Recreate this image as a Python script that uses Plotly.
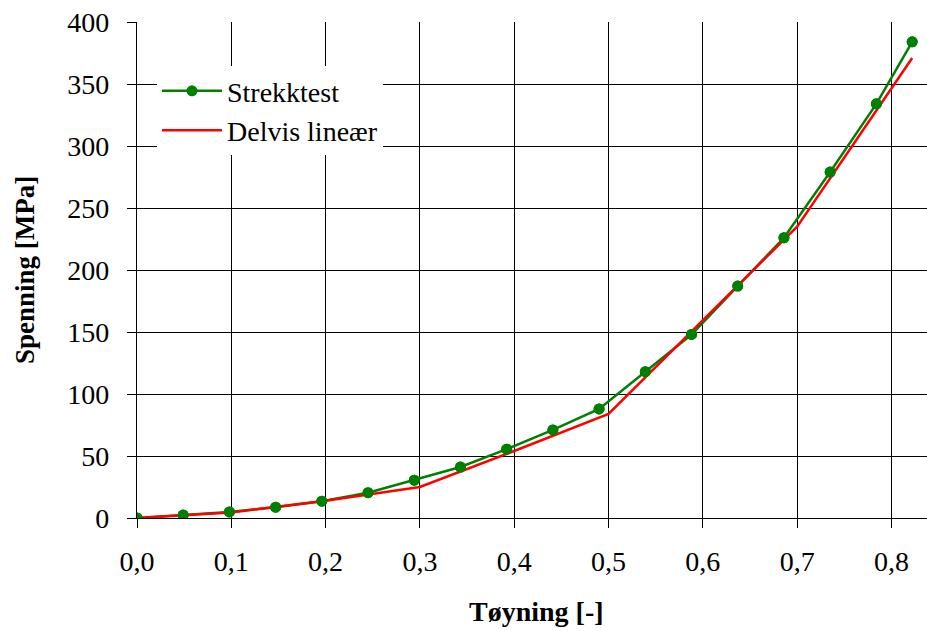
import plotly.graph_objects as go

# Strekktest (tensile test) data
strain_test = [0.0, 0.049, 0.098, 0.147, 0.196, 0.245, 0.294, 0.343, 0.392, 0.441,
               0.490, 0.539, 0.588, 0.637, 0.686, 0.735, 0.784, 0.822]
stress_test = [0.0, 2.4, 4.9, 8.7, 13.6, 20.4, 30.5, 41.1, 55.5, 71.0,
               88.0, 118.0, 148.0, 187.0, 226.0, 279.0, 334.0, 384.0]

# Delvis lineær (piecewise linear) data
strain_lin = [0.0, 0.1, 0.2, 0.3, 0.4, 0.5, 0.7, 0.822]
stress_lin = [0.0, 4.5, 14.0, 25.0, 54.0, 84.0, 235.0, 371.0]

x_ticks = [0.0, 0.1, 0.2, 0.3, 0.4, 0.5, 0.6, 0.7, 0.8]
y_ticks = [0, 50, 100, 150, 200, 250, 300, 350, 400]

GREEN = "#008000"
RED = "#FF0000"
FONT = "Liberation Serif, Times New Roman, serif"

fig = go.Figure()
fig.add_trace(go.Scatter(x=strain_test, y=stress_test, mode="lines+markers",
                         name="Strekktest", line=dict(color=GREEN, width=2.5),
                         marker=dict(color=GREEN, size=11), legendrank=1))
fig.add_trace(go.Scatter(x=strain_lin, y=stress_lin, mode="lines",
                         name="Delvis lineær", line=dict(color=RED, width=2.5),
                         legendrank=2))
fig.add_trace(go.Scatter(x=strain_test, y=stress_test, mode="markers",
                         showlegend=False, marker=dict(color=GREEN, size=11),
                         hoverinfo="skip"))

axis_common = dict(showline=True, linecolor="black", linewidth=1.2,
                   showgrid=True, gridcolor="black", gridwidth=1,
                   ticks="outside", ticklen=9, tickcolor="black", tickwidth=1.2,
                   zeroline=False, tickfont=dict(family=FONT, size=28, color="black"))

fig.update_xaxes(range=[0, 0.8377], tickvals=x_ticks, tickformat=".1f",
                 ticklabelstandoff=9, **axis_common)
fig.update_yaxes(range=[0, 400], tickvals=y_ticks, ticklabelstandoff=12,
                 **axis_common)

fig.update_layout(
    width=927, height=631,
    margin=dict(l=137, r=0, t=22, b=113),
    paper_bgcolor="white", plot_bgcolor="white",
    separators=", ",
    font=dict(family=FONT, size=28, color="black"),
    legend=dict(x=0.0253, y=0.911, xanchor="left", yanchor="top",
                bgcolor="white", borderwidth=0, itemwidth=60,
                font=dict(family=FONT, size=28, color="black"),
                tracegroupgap=0),
    annotations=[
        dict(text="<b>Tøyning [-]</b>", xref="paper", yref="paper",
             x=0.5063, y=-0.1895, xanchor="center", yanchor="middle",
             showarrow=False, font=dict(family=FONT, size=28, color="black")),
        dict(text="<b>Spenning [MPa]</b>", xref="paper", yref="paper",
             x=-0.1418, y=0.5, xanchor="center", yanchor="middle", textangle=-90,
             showarrow=False, font=dict(family=FONT, size=27, color="black")),
    ],
)

fig.write_html("out.html")
